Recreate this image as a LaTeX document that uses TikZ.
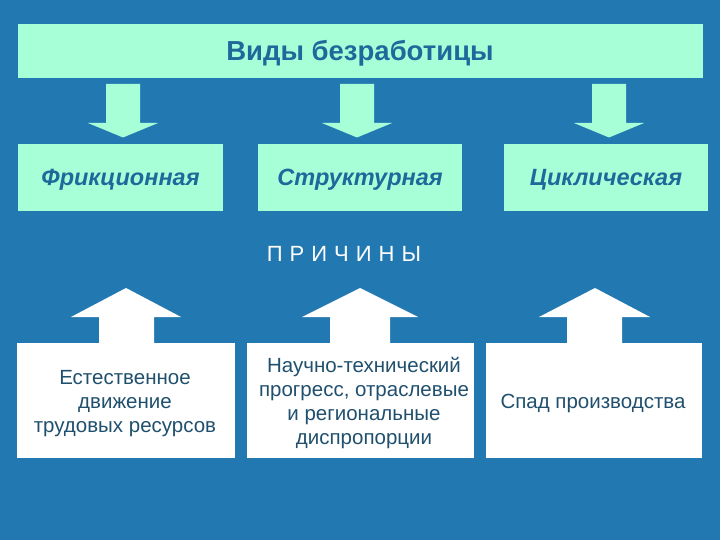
\documentclass[tikz,border=0pt]{standalone}
\usepackage{fontspec}
\setmainfont{Liberation Sans}
\definecolor{bg}{RGB}{34,121,177}
\definecolor{mint}{RGB}{166,255,214}
\definecolor{ink}{RGB}{30,105,155}
\definecolor{dark}{RGB}{32,80,110}
\begin{document}
\begin{tikzpicture}[x=1pt,y=-1pt,
  greenbox/.style={fill=mint,draw=none,inner sep=0pt},
  whitebox/.style={fill=white,draw=none,inner sep=0pt,align=center,text=dark,
    font=\fontsize{20.5}{24}\selectfont},
  typetext/.style={text=ink,font=\fontsize{23.5}{26}\selectfont\bfseries\itshape},
  downarrow/.style={fill=mint,draw=none},
  uparrow/.style={fill=white,draw=none}]
\fill[bg] (0,0) rectangle (720,540);
\useasboundingbox (0,0) rectangle (720,540);
% top box
\node[greenbox,minimum width=685pt,minimum height=54pt] (top) at (360.5,51) {};
\node[text=ink,font=\fontsize{27.5}{30}\selectfont\bfseries] (toptext) at (360,53.5) {Виды безработицы};
% type boxes
\node[greenbox,minimum width=205pt,minimum height=67pt] (fr) at (120.5,177.5) {};
\node[greenbox,minimum width=204pt,minimum height=67pt] (st) at (360,177.5) {};
\node[greenbox,minimum width=204pt,minimum height=67pt] (cy) at (606,177.5) {};
\node[typetext] (frt) at (120.5,180) {Фрикционная};
\node[typetext] (stt) at (360,180) {Структурная};
\node[typetext] (cyt) at (606,180) {Циклическая};
% down arrows
\foreach \cx in {123,357,609}{
  \fill[downarrow] (\cx-17,84) -- (\cx+17,84) -- (\cx+17,123) -- (\cx+35,123)
    -- (\cx,137.5) -- (\cx-35,123) -- (\cx-17,123) -- cycle;
}
% causes
\node[text=white,font=\fontsize{22}{26}\selectfont] (pr) at (344,254)
  {П\hspace{7pt}Р\hspace{7pt}И\hspace{7pt}Ч\hspace{7pt}И\hspace{7pt}Н\hspace{7pt}Ы};
\node[whitebox,minimum width=218pt,minimum height=115pt] (b1) at (126,400.5) {};
\node[whitebox,minimum width=227pt,minimum height=115pt] (b2) at (360.5,400.5) {};
\node[whitebox,minimum width=216pt,minimum height=115pt] (b3) at (594,400.5) {};
% up arrows
\fill[uparrow] (99,344) -- (99,317) -- (71,317) -- (126,288) -- (181,317) -- (154,317) -- (154,344) -- cycle;
\fill[uparrow] (330,344) -- (330,317) -- (302,317) -- (360,288) -- (418,317) -- (390,317) -- (390,344) -- cycle;
\fill[uparrow] (567,344) -- (567,317) -- (539,317) -- (595,288) -- (650,317) -- (622,317) -- (622,344) -- cycle;
% texts
\node[whitebox,fill=none] (t1) at (125,403.5) {Естественное\\движение\\трудовых ресурсов};
\node[whitebox,fill=none] (t2) at (364,403.5) {Научно-технический\\прогресс, отраслевые\\и региональные\\диспропорции};
\node[whitebox,fill=none] (t3) at (593,403.5) {Спад производства};
\end{tikzpicture}
\end{document}
